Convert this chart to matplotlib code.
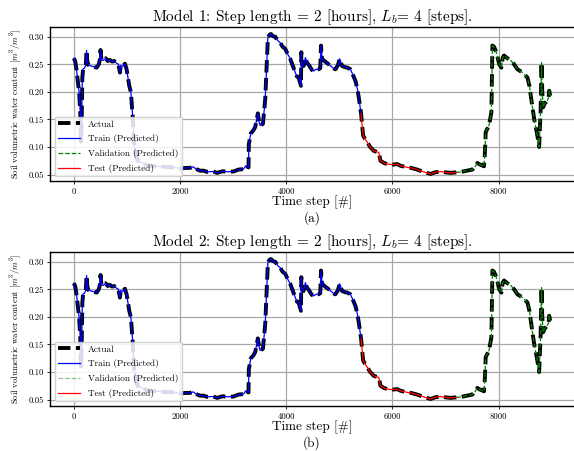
#!/usr/bin/env python3
"""Soil water content: actual vs predicted for two models (train / validation / test split)."""
import matplotlib
matplotlib.use("Agg")
import matplotlib.pyplot as plt
from matplotlib.lines import Line2D

# time step [#] and soil volumetric water content [m3/m3]
steps = [
    0, 25, 50, 80, 100, 120, 135, 150, 160, 175, 200, 225, 240, 255, 275, 320,
    365, 430, 470, 490, 503, 520, 553, 600, 640, 680, 720, 760, 805, 840, 868,
    885, 920, 962, 994, 1044, 1075, 1107, 1140, 1200, 1400, 1700, 1900, 2000,
    2100, 2180, 2251, 2300, 2377, 2450, 2500, 2628, 2700, 2800, 2900, 3006,
    3100, 3194, 3240, 3289, 3295, 3333, 3380, 3415, 3465, 3490, 3509, 3560,
    3604, 3654, 3690, 3711, 3750, 3792, 3840, 3887, 3930, 3981, 4030, 4075,
    4120, 4170, 4200, 4232, 4255, 4277, 4283, 4296, 4326, 4360, 4390, 4430,
    4480, 4516, 4560, 4610, 4640, 4654, 4673, 4720, 4760, 4799, 4850, 4900,
    4925, 4970, 5006, 5050, 5100, 5150, 5208, 5250, 5302, 5340, 5365, 5409,
    5447, 5480, 5522, 5580, 5648, 5710, 5742, 5774, 5840, 5900, 6000, 6088,
    6150, 6277, 6350, 6466, 6550, 6650, 6717, 6800, 6906, 7000, 7094, 7200,
    7300, 7400, 7503, 7560, 7597, 7650, 7723, 7740, 7755, 7817, 7862, 7881,
    7910, 7943, 7980, 8010, 8030, 8051, 8075, 8100, 8150, 8226, 8290, 8352,
    8450, 8541, 8580, 8604, 8667, 8720, 8761, 8790, 8806, 8820, 8836, 8860,
    8887, 8920, 8940, 8950, 8969,
]
actual = [
    0.261, 0.256, 0.241, 0.215, 0.199, 0.165, 0.110, 0.160, 0.225, 0.242,
    0.243, 0.248, 0.275, 0.255, 0.249, 0.247, 0.246, 0.244, 0.250, 0.258,
    0.276, 0.258, 0.257, 0.261, 0.256, 0.258, 0.255, 0.256, 0.252, 0.250,
    0.235, 0.248, 0.246, 0.251, 0.241, 0.211, 0.199, 0.157, 0.100, 0.075,
    0.066, 0.064, 0.063, 0.061, 0.062, 0.062, 0.064, 0.060, 0.057, 0.057,
    0.055, 0.0555, 0.053, 0.056, 0.055, 0.0555, 0.059, 0.060, 0.066, 0.063,
    0.105, 0.125, 0.130, 0.136, 0.161, 0.145, 0.139, 0.142, 0.187, 0.299,
    0.304, 0.305, 0.301, 0.300, 0.293, 0.289, 0.282, 0.278, 0.268, 0.260,
    0.248, 0.235, 0.228, 0.226, 0.218, 0.211, 0.272, 0.250, 0.247, 0.262,
    0.253, 0.248, 0.240, 0.238, 0.241, 0.241, 0.243, 0.284, 0.260, 0.256,
    0.253, 0.250, 0.246, 0.242, 0.241, 0.248, 0.260, 0.247, 0.245, 0.244,
    0.241, 0.232, 0.220, 0.205, 0.190, 0.160, 0.121, 0.115, 0.109, 0.100,
    0.093, 0.091, 0.090, 0.075, 0.071, 0.069, 0.068, 0.069, 0.066, 0.063,
    0.062, 0.059, 0.056, 0.053, 0.051, 0.054, 0.0555, 0.054, 0.053, 0.054,
    0.055, 0.057, 0.059, 0.065, 0.071, 0.068, 0.065, 0.090, 0.127, 0.139,
    0.163, 0.284, 0.282, 0.275, 0.262, 0.250, 0.247, 0.244, 0.262, 0.266,
    0.262, 0.257, 0.250, 0.241, 0.235, 0.226, 0.210, 0.193, 0.151, 0.125,
    0.100, 0.170, 0.253, 0.200, 0.172, 0.178, 0.181, 0.185, 0.190, 0.202,
    0.193,
]
TRAIN_END = 5409   # first step of the test part
TEST_END = 7200    # first step of the validation part

models = ["Model 1", "Model 2"]
panels = ["(a)", "(b)"]
val_alpha = [1.0, 0.45]   # legend look of the validation line per model

plt.rcParams["font.family"] = "cmr10"
plt.rcParams["mathtext.fontset"] = "cm"
plt.rcParams["axes.formatter.use_mathtext"] = True


def split(lo, hi):
    idx = [i for i, s in enumerate(steps) if lo <= s <= hi]
    return [steps[i] for i in idx], [actual[i] for i in idx]


fig = plt.figure(figsize=(5.74, 4.51), dpi=100)
boxes = [(50, 27, 181), (50, 252, 406)]
for k, (left, top, bottom) in enumerate(boxes):
    ax = fig.add_axes([left / 574, 1 - bottom / 451, (574 - left) / 574, (bottom - top) / 451])
    ax.plot(steps, actual, color="black", ls="--", lw=2.8, dashes=(3.2, 1.4))
    xs, ys = split(0, TRAIN_END)
    ax.plot(xs, ys, color="blue", lw=0.9)
    xs, ys = split(TEST_END, steps[-1])
    ax.plot(xs, ys, color="green", ls="--", lw=0.9)
    xs, ys = split(TRAIN_END, TEST_END)
    ax.plot(xs, ys, color="red", lw=0.9)

    ax.grid(True, color="#a8a8a8", lw=0.9)
    ax.set_axisbelow(True)
    ax.spines["right"].set_visible(False)
    for side in ("left", "top", "bottom"):
        ax.spines[side].set_linewidth(1.0)
    ax.tick_params(labelsize=6.3, length=2.5, width=0.6, pad=2)
    ax.set_xticks([0, 2000, 4000, 6000, 8000])
    ax.set_yticks([0.05, 0.10, 0.15, 0.20, 0.25, 0.30])
    ax.set_yticklabels(["0.05", "0.10", "0.15", "0.20", "0.25", "0.30"])
    ax.set_xticklabels(["0", "2000", "4000", "6000", "8000"])

    ax.set_title(f"{models[k]}: Step length = 2 [hours], $L_b$= 4 [steps].",
                 fontsize=11.0, pad=3)
    ax.set_ylabel("Soil volumetric water content [$m^3/m^3$]", fontsize=6.3, labelpad=3)
    ax.set_xlabel(f"Time step [#]\n{panels[k]}", fontsize=9.5,
                  labelpad=0, linespacing=1.2)

    handles = [
        Line2D([], [], color="black", ls="--", lw=2.8, dashes=(3.2, 1.4)),
        Line2D([], [], color="blue", lw=0.9),
        Line2D([], [], color="green", ls="--", lw=0.9, alpha=val_alpha[k]),
        Line2D([], [], color="red", lw=0.9),
    ]
    labels = ["Actual", "Train (Predicted)", "Validation (Predicted)", "Test (Predicted)"]
    ax.legend(handles, labels, loc="lower left", fontsize=6.6, framealpha=0.85,
              handlelength=2.4, labelspacing=0.62, borderaxespad=0.5)

fig.savefig("out.png", dpi=100)
